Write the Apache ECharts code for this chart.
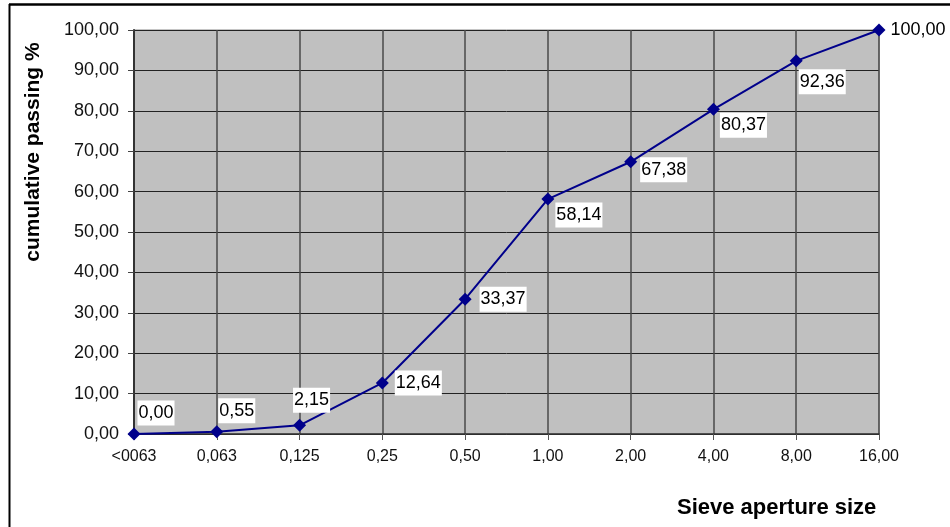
<!DOCTYPE html>
<html><head><meta charset="utf-8">
<script src="https://cdn.jsdelivr.net/npm/echarts@6/dist/echarts.min.js"></script>
<style>html,body{margin:0;padding:0;background:#fff}#c{width:950px;height:527px}</style>
</head><body><div id="c"></div>
<script>
const categories = ['<0063', '0,063', '0,125', '0,25', '0,50', '1,00', '2,00', '4,00', '8,00', '16,00'];
const passing = [0.00, 0.55, 2.15, 12.64, 33.37, 58.14, 67.38, 80.37, 92.36, 100.00];
const yTicks = [0, 10, 20, 30, 40, 50, 60, 70, 80, 90, 100];
const xTitle = 'Sieve aperture size';
const yTitle = 'cumulative passing %';

const labelOffsets = [[22,-21],[20,-21],[12,-25],[36,0],[38,0],[31,16],[33,8],[30,16],[26,21],[39,0]];
const fmt = v => Number(v).toFixed(2).replace('.', ',');
const FONT = '"Liberation Sans", Arial, sans-serif';

const chart = echarts.init(document.getElementById('c'), null, {renderer: 'canvas'});
chart.setOption({
  animation: false,
  backgroundColor: '#fff',
  grid: {left: 134, right: 71, top: 30, bottom: 93, show: true, backgroundColor: '#c0c0c0', borderColor: '#8a8a8a', borderWidth: 1},
  xAxis: {
    type: 'category', data: categories, boundaryGap: false,
    axisLine: {lineStyle: {color: '#333', width: 1.5}},
    axisTick: {show: true, length: 6, lineStyle: {color: '#555'}},
    axisLabel: {color: '#111', fontSize: 16, fontFamily: FONT, margin: 15},
    splitLine: {show: true, lineStyle: {color: '#4a4a4a', width: 1.5}}
  },
  yAxis: {
    type: 'value', min: yTicks[0], max: yTicks[yTicks.length - 1], interval: yTicks[1] - yTicks[0],
    axisLine: {show: true, lineStyle: {color: '#333', width: 2}},
    axisTick: {show: true, length: 6, lineStyle: {color: '#444'}},
    axisLabel: {color: '#111', fontSize: 18, fontFamily: FONT, margin: 15, formatter: fmt},
    splitLine: {show: true, lineStyle: {color: '#222', width: 1}}
  },
  series: [{
    type: 'line', data: passing.map((v, i) => ({
      value: v,
      label: {offset: labelOffsets[i], backgroundColor: i === passing.length - 1 ? 'transparent' : '#fff'}
    })),
    symbol: 'diamond', symbolSize: 13,
    itemStyle: {color: '#00008b'},
    lineStyle: {color: '#00008b', width: 2},
    label: {show: true, position: 'inside', formatter: p => fmt(p.value), color: '#000', fontSize: 18, fontFamily: FONT,
      padding: [3, 1, 2, 1], lineHeight: 20}
  }],
  graphic: [
    {type: 'line', shape: {x1: 9.5, y1: 4, x2: 9.5, y2: 527}, style: {stroke: '#000', lineWidth: 2}},
    {type: 'line', shape: {x1: 9, y1: 4.5, x2: 950, y2: 4.5}, style: {stroke: '#000', lineWidth: 2.5}},
    {type: 'text', left: 677, top: 497, style: {text: xTitle, fontSize: 22, fontWeight: 'bold', fontFamily: FONT, fill: '#000'}},
    {type: 'text', x: 33, y: 152, rotation: Math.PI / 2, style: {text: yTitle, fontSize: 21, fontWeight: 'bold', fontFamily: FONT, fill: '#000', align: 'center', verticalAlign: 'middle'}}
  ]
});
</script></body></html>
